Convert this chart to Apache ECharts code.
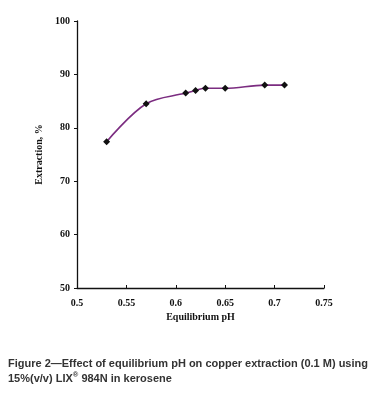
<!DOCTYPE html>
<html>
<head>
<meta charset="utf-8">
<script src="https://cdn.jsdelivr.net/npm/echarts@6/dist/echarts.min.js"></script>
<style>
  html, body { margin: 0; padding: 0; background: #fff; }
  #chart { width: 385px; height: 402px; }
</style>
</head>
<body>
<div id="chart"></div>
<script>
// equilibrium pH vs copper extraction (%)
const phValues = [0.53, 0.57, 0.61, 0.62, 0.63, 0.65, 0.69, 0.71]
const extraction = [77.4, 84.5, 86.5, 87.0, 87.4, 87.4, 88.0, 88.0]
const captionLines = [
  'Figure 2\u2014Effect of equilibrium pH on copper extraction (0.1 M) using',
  '15%(v/v) LIX{sup|\u00ae} 984N in kerosene'
]

const chart = echarts.init(document.getElementById('chart'))
const tickFont = {
  fontFamily: 'Liberation Serif',
  fontWeight: 'bold',
  fontSize: 10,
  color: '#111'
}

const option = {
  animation: false,
  title: {
    left: 3,
    top: 351,
    text: captionLines.join('\n'),
    textStyle: {
      fontFamily: 'Liberation Sans, Arial, sans-serif',
      fontWeight: 'bold',
      fontSize: 11,
      lineHeight: 15,
      color: '#333',
      rich: {
        sup: {
          fontFamily: 'Liberation Sans, Arial, sans-serif',
          fontWeight: 'bold',
          fontSize: 7.5,
          color: '#333',
          verticalAlign: 'top',
          padding: [0, 0, 6, 0]
        }
      }
    }
  },
  grid: {
    left: 77,
    top: 21,
    right: 61,
    bottom: 114
  },
  xAxis: {
    type: 'value',
    min: 0.5,
    max: 0.75,
    interval: 0.05,
    name: 'Equilibrium pH',
    nameLocation: 'middle',
    nameGap: 20,
    nameTextStyle: { fontFamily: 'Liberation Serif', fontWeight: 'bold', fontSize: 10, color: '#111' },
    axisLine: { lineStyle: { color: '#111', width: 1.3 } },
    axisTick: { inside: true, length: 3, lineStyle: { color: '#111' } },
    axisLabel: Object.assign({ margin: 10 }, tickFont),
    splitLine: { show: false }
  },
  yAxis: {
    type: 'value',
    min: 50,
    max: 100,
    interval: 10,
    name: 'Extraction, %',
    nameLocation: 'middle',
    nameGap: 21,
    nameTextStyle: { fontFamily: 'Liberation Serif', fontWeight: 'bold', fontSize: 10, color: '#111' },
    axisLine: { show: true, lineStyle: { color: '#111', width: 1.3 } },
    axisTick: { show: true, length: 3, lineStyle: { color: '#111' } },
    axisLabel: Object.assign({ margin: 7 }, tickFont),
    splitLine: { show: false }
  },
  series: [{
    type: 'line',
    data: phValues.map((x, i) => [x, extraction[i]]),
    smooth: 0.35,
    symbol: 'diamond',
    symbolSize: 7,
    lineStyle: { color: '#7b2c80', width: 1.6 },
    itemStyle: { color: '#111' }
  }]
}

chart.setOption(option)
</script>
</body>
</html>
